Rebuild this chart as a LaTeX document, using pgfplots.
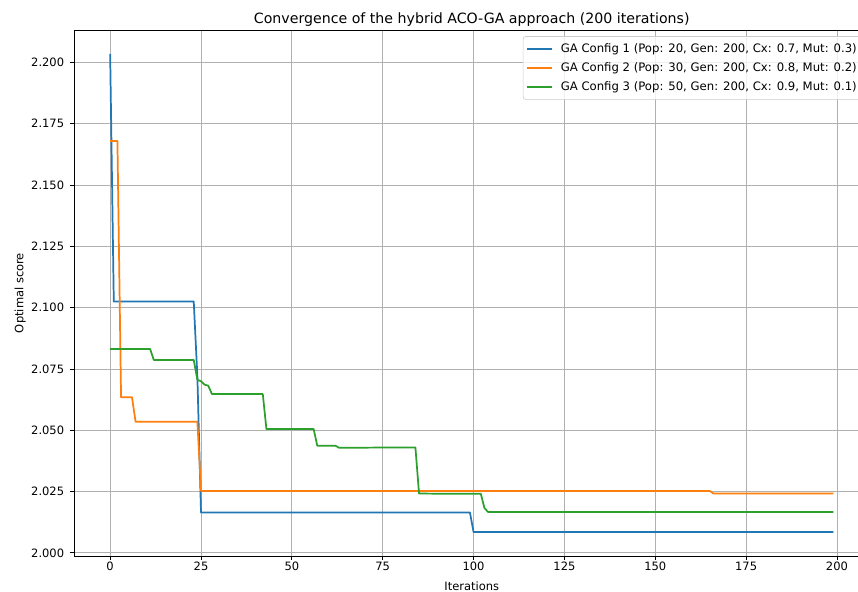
\documentclass[border=0pt]{standalone}
\usepackage{fontspec}
\setmainfont{DejaVu Sans}
\usepackage{pgfplots}
\pgfplotsset{compat=1.18}

\definecolor{cblue}{HTML}{1F77B4}
\definecolor{corange}{HTML}{FF7F0E}
\definecolor{cgreen}{HTML}{2CA02C}
\definecolor{cgrid}{HTML}{B0B0B0}

\begin{document}
\begin{tikzpicture}
% reference image is cropped on the right, keep the same frame
\path[use as bounding box] (-44.4pt,-21.6pt) rectangle (470.4pt,333.6pt);
\clip (-44.4pt,-21.6pt) rectangle (470.4pt,333.6pt);
\begin{axis}[
  scale only axis,
  width=477.3pt, height=315.6pt,
  xmin=-9.95, xmax=208.95,
  ymin=1.99875, ymax=2.21325,
  xtick={0,25,...,200},
  ytick={2.000,2.025,2.050,2.075,2.100,2.125,2.150,2.175,2.200},
  tick pos=left,
  tick align=outside,
  major tick length=2.4pt,
  every tick/.style={black,line width=0.55pt},
  axis line style={line width=0.55pt},
  grid=major,
  grid style={cgrid,line width=0.55pt},
  scaled y ticks=false,
  yticklabel style={/pgf/number format/.cd,fixed,precision=3,zerofill},
  xticklabel style={yshift=2.5pt},
  /pgf/number format/assume math mode=true,
  tick label style={font=\fontsize{6.9}{8}\selectfont},
  label style={font=\fontsize{6.9}{8}\selectfont},
  ylabel shift=-3.6pt,
  title style={font=\fontsize{8.5}{10}\selectfont,anchor=base,inner sep=0pt,yshift=-1.9pt},
  title={Convergence of the hybrid ACO-GA approach (200 iterations)},
  xlabel={Iterations},
  ylabel={Optimal score},
  legend cell align=left,
  legend style={at={(1,1)},anchor=north east,xshift=-3.45pt,yshift=-3.75pt,
    draw=black!20,rounded corners=1.5pt,fill=white,fill opacity=0.8,text opacity=1,
    font=\fontsize{7}{8}\selectfont,row sep=0.6pt,column sep=2.5pt,inner sep=2pt},
  legend image code/.code={\draw[#1,line width=1.1pt,draw opacity=1] (0pt,0pt) -- (15pt,0pt);},
  every axis plot/.append style={line width=1.04pt,line join=round},
]
\addplot[cblue] coordinates {
  (0,2.2035) (1,2.1025) (23,2.1025) (24,2.0720) (25,2.0165)
  (99,2.0165) (100,2.0085) (199,2.0085)
};
\addlegendentry{GA Config 1 (Pop: 20, Gen: 200, Cx: 0.7, Mut: 0.3)}
\addplot[corange] coordinates {
  (0,2.1680) (2,2.1680) (3,2.0635) (6,2.0635) (7,2.0535) (24,2.0535)
  (25,2.0253) (165,2.0253) (166,2.0242) (199,2.0242)
};
\addlegendentry{GA Config 2 (Pop: 30, Gen: 200, Cx: 0.8, Mut: 0.2)}
\addplot[cgreen] coordinates {
  (0,2.0832) (11,2.0832) (12,2.0787) (23,2.0787) (24,2.0706) (25,2.0700)
  (26,2.0686) (27,2.0682) (28,2.0648) (42,2.0648) (43,2.0505) (56,2.0505)
  (57,2.0437) (62,2.0437) (63,2.0429) (84,2.0430) (85,2.0242) (102,2.0241)
  (103,2.0183) (104,2.0167) (199,2.0167)
};
\addlegendentry{GA Config 3 (Pop: 50, Gen: 200, Cx: 0.9, Mut: 0.1)}
\end{axis}
\end{tikzpicture}
\end{document}
